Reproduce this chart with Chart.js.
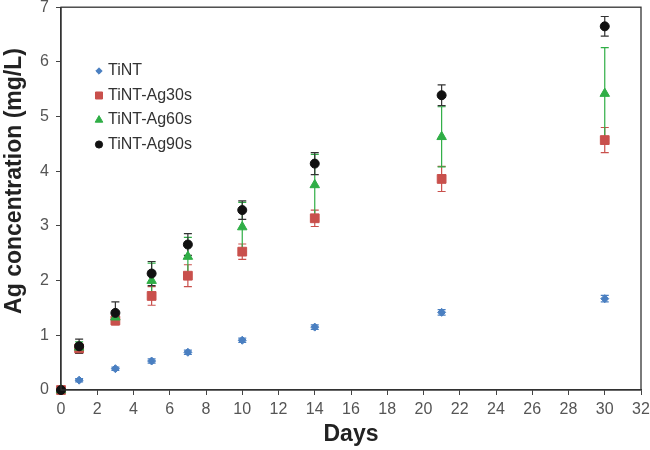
<!DOCTYPE html>
<html>
<head>
    <title>Ag release</title>
    <script src="https://cdn.jsdelivr.net/npm/chart.js"></script>
    <style>
        body { margin: 0; background: #fff; }
        #wrap { width: 650px; height: 450px; }
    </style>
</head>
<body>
    <div id="wrap"><canvas id="agChart"></canvas></div>
    <script>
        // values
        const days = [0, 1, 3, 5, 7, 10, 14, 21, 30];
        const tint = [0, 0.18, 0.39, 0.53, 0.69, 0.91, 1.15, 1.42, 1.67];
        const tintErr = [0, 0.03, 0.03, 0.04, 0.04, 0.04, 0.04, 0.05, 0.06];
        const ag30 = [0, 0.76, 1.27, 1.72, 2.09, 2.53, 3.14, 3.86, 4.57];
        const ag30Err = [0, 0.08, 0.08, 0.17, 0.2, 0.14, 0.15, 0.23, 0.23];
        const ag60 = [0, 0.78, 1.33, 2.0, 2.44, 2.98, 3.75, 4.63, 5.42];
        const ag60Err = [0, 0.1, 0.1, 0.32, 0.35, 0.45, 0.56, 0.55, 0.84];
        const ag90 = [0, 0.8, 1.41, 2.13, 2.66, 3.29, 4.14, 5.39, 6.65];
        const ag90Err = [0, 0.13, 0.2, 0.22, 0.2, 0.17, 0.2, 0.19, 0.18];
        const xTicks = [0, 2, 4, 6, 8, 10, 12, 14, 16, 18, 20, 22, 24, 26, 28, 30, 32];

        const FONT = '"Liberation Sans", Arial, sans-serif';

        function pts(vals) {
            return days.map((d, i) => ({ x: d, y: vals[i] }));
        }

        const series = [
            { label: 'TiNT', data: tint, err: tintErr, color: '#4a7fc1', style: 'rectRot', r: 4, order: 4 },
            { label: 'TiNT-Ag30s', data: ag30, err: ag30Err, color: '#c9504c', style: 'rect', r: 6.2, order: 3 },
            { label: 'TiNT-Ag60s', data: ag60, err: ag60Err, color: '#2fae46', style: 'triangle', r: 5.5, order: 2 },
            { label: 'TiNT-Ag90s', data: ag90, err: ag90Err, color: '#111111', style: 'circle', r: 4.5, order: 1 }
        ];

        // error bars behind the markers
        const errorBars = {
            id: 'errorBars',
            beforeDatasetsDraw(chart) {
                const ctx = chart.ctx;
                const xs = chart.scales.x, ys = chart.scales.y;
                ctx.save();
                ctx.lineWidth = 1.2;
                series.forEach(s => {
                    ctx.strokeStyle = s.color === '#111111' ? '#333' : s.color;
                    days.forEach((d, i) => {
                        const e = s.err[i];
                        if (!e) return;
                        const px = xs.getPixelForValue(d);
                        const top = ys.getPixelForValue(s.data[i] + e);
                        const bot = ys.getPixelForValue(s.data[i] - e);
                        ctx.beginPath();
                        ctx.moveTo(px, top); ctx.lineTo(px, bot);
                        ctx.moveTo(px - 4, top); ctx.lineTo(px + 4, top);
                        ctx.moveTo(px - 4, bot); ctx.lineTo(px + 4, bot);
                        ctx.stroke();
                    });
                });
                ctx.restore();
            }
        };

        // frame, axis titles and legend
        const decorations = {
            id: 'decorations',
            afterDraw(chart) {
                const ctx = chart.ctx;
                const a = chart.chartArea;
                ctx.save();
                ctx.strokeStyle = '#333';
                ctx.lineWidth = 1.3;
                ctx.strokeRect(a.left, a.top, a.right - a.left, a.bottom - a.top);

                ctx.fillStyle = '#222';
                ctx.font = 'bold 23px ' + FONT;
                ctx.textAlign = 'center';
                ctx.textBaseline = 'middle';
                ctx.fillText('Days', (a.left + a.right) / 2, 435);

                ctx.translate(15, 181);
                ctx.rotate(-Math.PI / 2);
                ctx.fillText('Ag concentration (mg/L)', 0, 0);
                ctx.restore();

                ctx.save();
                ctx.font = '16px ' + FONT;
                ctx.textBaseline = 'middle';
                ctx.textAlign = 'left';
                series.forEach((s, i) => {
                    const y = 71 + i * 24.5;
                    ctx.fillStyle = s.color;
                    ctx.strokeStyle = s.color;
                    Chart.helpers.drawPoint(ctx, { pointStyle: s.style, radius: s.r * 0.8, borderWidth: 1 }, 99, y);
                    ctx.fillStyle = '#333';
                    ctx.fillText(s.label, 108, y);
                });
                ctx.restore();
            }
        };

        const ctx = document.getElementById('agChart').getContext('2d');
        new Chart(ctx, {
            type: 'scatter',
            data: {
                datasets: series.map(s => ({
                    label: s.label,
                    data: pts(s.data),
                    pointStyle: s.style,
                    pointRadius: s.r,
                    backgroundColor: s.color,
                    borderColor: s.color,
                    borderWidth: 1,
                    order: s.order,
                    clip: false
                }))
            },
            options: {
                responsive: true,
                maintainAspectRatio: false,
                animation: false,
                layout: { padding: { top: 6, right: 9, left: 0, bottom: 0 } },
                plugins: {
                    legend: { display: false },
                    tooltip: { enabled: false }
                },
                scales: {
                    x: {
                        type: 'linear',
                        min: 0,
                        max: 32,
                        afterBuildTicks: scale => { scale.ticks = xTicks.map(v => ({ value: v })); },
                        afterFit: scale => {
                            scale.height = 60;
                            scale.paddingLeft = 0;
                            scale.paddingRight = 0;
                        },
                        grid: { drawOnChartArea: false, drawTicks: true, tickLength: 5, color: '#444' },
                        border: { color: '#333', width: 1.3 },
                        ticks: { color: '#555', font: { family: FONT, size: 16 }, padding: 5, maxRotation: 0 }
                    },
                    y: {
                        min: 0,
                        max: 7,
                        ticks: { stepSize: 1, color: '#555', font: { family: FONT, size: 16 }, padding: 7 },
                        afterFit: scale => {
                            scale.width = 61;
                            scale.paddingTop = 0;
                            scale.paddingBottom = 0;
                        },
                        grid: { drawOnChartArea: false, drawTicks: true, tickLength: 5, color: '#444' },
                        border: { color: '#333', width: 1.3 }
                    }
                }
            },
            plugins: [errorBars, decorations]
        });
    </script>
</body>
</html>
